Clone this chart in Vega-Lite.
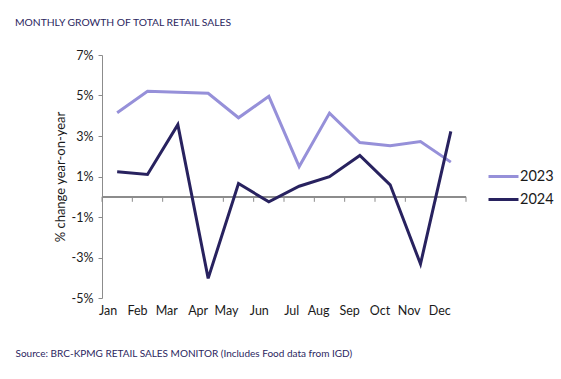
{
  "$schema": "https://vega.github.io/schema/vega-lite/v6.json",
  "width": 364,
  "height": 243,
  "autosize": {"type": "none"},
  "padding": {"left": 102, "top": 55, "right": 95, "bottom": 81},
  "background": "white",
  "config": {
    "font": "Lato",
    "view": {"stroke": null}
  },
  "title": {
    "text": "MONTHLY GROWTH OF TOTAL RETAIL SALES",
    "anchor": "start",
    "frame": "group",
    "dx": -87,
    "offset": 21,
    "fontSize": 10.3,
    "fontWeight": "normal",
    "color": "#2b2660"
  },
  "datasets": {
    "sales": [
      {"month": "Jan", "year": "2023", "value": 4.15},
      {"month": "Feb", "year": "2023", "value": 5.21},
      {"month": "Mar", "year": "2023", "value": 5.16},
      {"month": "Apr", "year": "2023", "value": 5.11},
      {"month": "May", "year": "2023", "value": 3.9},
      {"month": "Jun", "year": "2023", "value": 4.96},
      {"month": "Jul", "year": "2023", "value": 1.49},
      {"month": "Aug", "year": "2023", "value": 4.13},
      {"month": "Sep", "year": "2023", "value": 2.68},
      {"month": "Oct", "year": "2023", "value": 2.52},
      {"month": "Nov", "year": "2023", "value": 2.73},
      {"month": "Dec", "year": "2023", "value": 1.71},
      {"month": "Jan", "year": "2024", "value": 1.23},
      {"month": "Feb", "year": "2024", "value": 1.1},
      {"month": "Mar", "year": "2024", "value": 3.56},
      {"month": "Apr", "year": "2024", "value": -4.03},
      {"month": "May", "year": "2024", "value": 0.65},
      {"month": "Jun", "year": "2024", "value": -0.25},
      {"month": "Jul", "year": "2024", "value": 0.52},
      {"month": "Aug", "year": "2024", "value": 0.99},
      {"month": "Sep", "year": "2024", "value": 2.04},
      {"month": "Oct", "year": "2024", "value": 0.59},
      {"month": "Nov", "year": "2024", "value": -3.32},
      {"month": "Dec", "year": "2024", "value": 3.23}
    ]
  },
  "layer": [
    {
      "data": {"name": "sales"},
      "mark": {"type": "rule", "color": "#8c8c8c", "strokeWidth": 1},
      "encoding": {"y": {"datum": 0}}
    },
    {
      "data": {"name": "sales"},
      "transform": [{"filter": "datum.year == '2023'"}],
      "mark": {"type": "rule", "color": "#8c8c8c", "strokeWidth": 1},
      "encoding": {
        "x": {"field": "month", "type": "ordinal", "bandPosition": 0},
        "y": {"datum": 0},
        "y2": {"datum": -0.25}
      }
    },
    {
      "data": {"values": [{"month": "Dec"}]},
      "mark": {"type": "rule", "color": "#8c8c8c", "strokeWidth": 1},
      "encoding": {
        "x": {"field": "month", "type": "ordinal", "bandPosition": 1},
        "y": {"datum": 0},
        "y2": {"datum": -0.25}
      }
    },
    {
      "data": {"name": "sales"},
      "mark": {"type": "line", "strokeWidth": 3},
      "encoding": {
        "x": {
          "field": "month",
          "type": "ordinal",
          "scale": {
            "domain": ["Jan", "Feb", "Mar", "Apr", "May", "Jun", "Jul", "Aug", "Sep", "Oct", "Nov", "Dec"],
            "paddingInner": 0,
            "paddingOuter": 0
          },
          "axis": {
            "orient": "bottom",
            "domain": false,
            "ticks": false,
            "labelAngle": 0,
            "labelPadding": 12,
            "labelFontSize": 12.5,
            "labelColor": "#1a1a1a",
            "title": "Source: BRC-KPMG RETAIL SALES MONITOR (Includes Food data from IGD)",
            "titleAnchor": "start",
            "titleAlign": "left",
            "titleX": -87,
            "titleY": 55,
            "titleBaseline": "middle",
            "titleFontSize": 10,
            "titleFontWeight": "normal",
            "titleColor": "#2b2660"
          }
        },
        "y": {
          "field": "value",
          "type": "quantitative",
          "scale": {"domain": [-5, 7], "nice": false, "zero": false},
          "axis": {
            "values": [-5, -3, -1, 1, 3, 5, 7],
            "labelExpr": "datum.value + '%'",
            "grid": false,
            "domainColor": "#8c8c8c",
            "tickColor": "#8c8c8c",
            "tickSize": 4,
            "labelPadding": 5,
            "labelFontSize": 12.5,
            "labelColor": "#1a1a1a",
            "title": "% change year-on-year",
            "titleFontSize": 13,
            "titleFontWeight": "normal",
            "titleColor": "#1a1a1a",
            "titleX": -42,
            "titleY": 121.5,
            "titleBaseline": "middle"
          }
        },
        "color": {
          "field": "year",
          "type": "nominal",
          "scale": {"domain": ["2023", "2024"], "range": ["#9690d9", "#28225f"]},
          "legend": {
            "title": null,
            "orient": "none",
            "legendX": 385,
            "legendY": 105,
            "symbolType": "stroke",
            "symbolSize": 900,
            "symbolStrokeWidth": 3,
            "labelFontSize": 14.5,
            "labelColor": "#1a1a1a",
            "labelOffset": 0,
            "rowPadding": 0
          }
        }
      }
    }
  ]
}
